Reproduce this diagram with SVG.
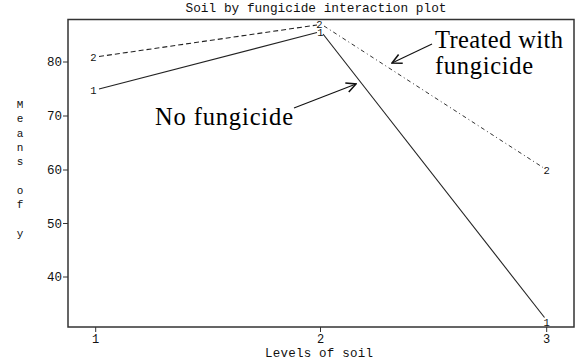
<svg xmlns="http://www.w3.org/2000/svg" width="576" height="362" viewBox="0 0 576 362">
<defs>
<style>
.mono{font-family:"Liberation Mono","DejaVu Sans Mono",monospace;fill:#111;}
.tick{font-size:12.5px;}
.ann{font-family:"Liberation Serif","DejaVu Serif",serif;font-size:24.5px;fill:#000;}
.ax{stroke:#333;stroke-width:1.5;fill:none;}
.tk{stroke:#333;stroke-width:1;}
.l1{stroke:#222;stroke-width:1.1;fill:none;}
.l2a{stroke:#222;stroke-width:1.1;fill:none;stroke-dasharray:5,3;}
.l2b{stroke:#333;stroke-width:1;fill:none;stroke-dasharray:4,3,1,3;}
.arr{stroke:#111;stroke-width:1.1;fill:none;}
.mk{font-family:"Liberation Mono","DejaVu Sans Mono",monospace;font-size:10.5px;fill:#111;text-anchor:middle;}
</style>
<marker id="ah" viewBox="0 0 10 10" refX="9" refY="5" markerWidth="12" markerHeight="12" markerUnits="userSpaceOnUse" orient="auto">
<path d="M1,1 L9,5 L1,9" fill="none" stroke="#111" stroke-width="1.3"/>
</marker>
</defs>
<rect width="576" height="362" fill="#fff"/>

<g id="title"><text class="mono" x="316" y="12" font-size="12.8" text-anchor="middle" textLength="261">Soil by fungicide interaction plot</text></g>

<g id="frame">
<rect class="ax" x="68" y="19.5" width="506" height="307.5"/>
</g>

<g id="y-axis">
<line class="tk" x1="63" y1="62" x2="68" y2="62"/>
<line class="tk" x1="63" y1="116" x2="68" y2="116"/>
<line class="tk" x1="63" y1="170" x2="68" y2="170"/>
<line class="tk" x1="63" y1="223.5" x2="68" y2="223.5"/>
<line class="tk" x1="63" y1="277" x2="68" y2="277"/>
<g class="mono tick" text-anchor="end">
<text x="62" y="66">80</text>
<text x="62" y="120">70</text>
<text x="62" y="174">60</text>
<text x="62" y="227.5">50</text>
<text x="62" y="281">40</text>
</g>
<g class="mono" font-size="11" text-anchor="middle">
<text x="20" y="108">M</text>
<text x="20" y="122.3">e</text>
<text x="20" y="136.6">a</text>
<text x="20" y="150.9">n</text>
<text x="20" y="165.2">s</text>
<text x="20" y="193.8">o</text>
<text x="20" y="208.1">f</text>
<text x="20" y="236.7">y</text>
</g>
</g>

<g id="x-axis">
<line class="tk" x1="95.7" y1="327" x2="95.7" y2="332"/>
<line class="tk" x1="320.5" y1="327" x2="320.5" y2="332"/>
<line class="tk" x1="546.7" y1="327" x2="546.7" y2="332"/>
<g class="mono" font-size="12" text-anchor="middle">
<text x="95.7" y="342.5">1</text>
<text x="320.5" y="342.5">2</text>
<text x="546.7" y="342.5">3</text>
</g>
<text class="mono" x="319" y="357" font-size="12.5" text-anchor="middle" textLength="108">Levels of soil</text>
</g>

<g id="connectors">
<polyline class="l1" points="99,89 317,32.5"/>
<polyline class="l1" points="323,34 544.5,317.5"/>
<polyline class="l2a" points="99,56.5 317,25"/>
<polyline class="l2b" points="324,26 543,167.5"/>
<line class="arr" x1="294" y1="108" x2="356" y2="84" marker-end="url(#ah)"/>
<line class="arr" x1="432" y1="44" x2="392" y2="63" marker-end="url(#ah)"/>
</g>

<g id="series-1-markers">
<text class="mk" x="93.5" y="94">1</text>
<text class="mk" x="320.5" y="36">1</text>
<text class="mk" x="546.7" y="325.5">1</text>
</g>
<g id="series-2-markers">
<text class="mk" x="93.5" y="61">2</text>
<text class="mk" x="319.5" y="27.5">2</text>
<text class="mk" x="546.7" y="174">2</text>
</g>

<g id="label-no-fungicide"><text class="ann" x="155" y="125" textLength="138">No fungicide</text></g>
<g id="label-treated">
<text class="ann" x="435" y="48" textLength="128">Treated with</text>
<text class="ann" x="435" y="73.5" textLength="98">fungicide</text>
</g>
</svg>
